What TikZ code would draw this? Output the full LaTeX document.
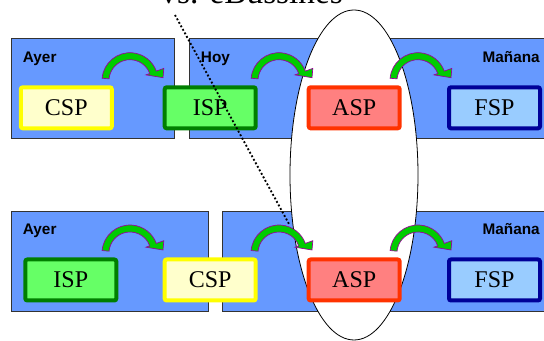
\documentclass[tikz,border=0pt]{standalone}
\usepackage{fontspec}
\setmainfont{Liberation Serif}
\setsansfont{Liberation Sans}
\usetikzlibrary{shapes.geometric,positioning}
\definecolor{PanelBlue}{HTML}{6699FF}
\definecolor{PanelEdge}{HTML}{333333}
\definecolor{CspFill}{HTML}{FFFFCC}
\definecolor{CspEdge}{HTML}{FFFF00}
\definecolor{IspFill}{HTML}{66FF66}
\definecolor{IspEdge}{HTML}{007F00}
\definecolor{AspFill}{HTML}{FF8080}
\definecolor{AspEdge}{HTML}{FF3300}
\definecolor{FspFill}{HTML}{99CCFF}
\definecolor{FspEdge}{HTML}{000099}
\definecolor{HopFill}{HTML}{00CC00}
\definecolor{HopEdge}{HTML}{990099}
\tikzset{
  panel/.style={fill=PanelBlue,draw=PanelEdge,line width=0.75pt},
  era/.style={font=\sffamily\bfseries\fontsize{11.5}{13}\selectfont,inner sep=0pt},
  sp/.style={rectangle,rounded corners=1.5pt,line width=3pt,minimum width=68.25pt,
    minimum height=30.75pt,inner sep=0pt,font=\fontsize{18}{20}\selectfont},
  CSP/.style={sp,fill=CspFill,draw=CspEdge},
  ISP/.style={sp,fill=IspFill,draw=IspEdge},
  ASP/.style={sp,fill=AspFill,draw=AspEdge},
  FSP/.style={sp,fill=FspFill,draw=FspEdge},
  cluster/.style={ellipse,draw=black,fill=white,line width=0.6pt,inner sep=0pt,
    minimum width=96pt,minimum height=247.5pt},
  pointer/.style={line width=1.4pt,dash pattern=on 1.4pt off 1.6pt},
  hop/.pic={
    \filldraw[fill=HopFill,draw=HopEdge,line width=0.5pt]
      (185:21) -- (185:28) arc[start angle=185,end angle=340,radius=28]
      -- (340:36) -- (33,-3) -- (340:17) -- (340:21)
      arc[start angle=340,end angle=185,radius=21] -- cycle;
  }
}
\begin{document}
\begin{tikzpicture}[x=0.75pt,y=-0.75pt]
\useasboundingbox (0,0) rectangle (544,341);

% title, cut by the page top
\node[anchor=base,inner sep=0pt,font=\fontsize{25}{28}\selectfont] (title) at (251.7,3.5) {vs. eBussines};

% panels
\path[panel] (11,39) rectangle (174,139);
\path[panel] (189,39) rectangle (550,139);
\path[panel] (11,212) rectangle (208,312);
\path[panel] (222,212) rectangle (550,312);

\node[era,anchor=base west] (ayer1) at (22.7,62.5) {Ayer};
\node[era,anchor=base west] (hoy1) at (200.7,62.5) {Hoy};
\node[era,anchor=base east] (manana1) at (540,62.5) {Mañana};
\node[era,anchor=base west] (ayer2) at (22.7,235) {Ayer};
\node[era,anchor=base east] (manana2) at (540,235) {Mañana};

\node[cluster] (cluster) at (354,175) {};

% top row
\node[CSP] (csp1) at (66.3,107.8) {CSP};
\node[ISP] (isp1) at (210.2,107.8) {ISP};
\node[ASP] (asp1) at (354.2,107.8) {ASP};
\node[FSP] (fsp1) at (494.5,107.8) {FSP};
% bottom row
\node[ISP] (isp2) at (70.8,280) {ISP};
\node[CSP] (csp2) at (210.2,280) {CSP};
\node[ASP] (asp2) at (354.2,280) {ASP};
\node[FSP] (fsp2) at (494.5,280) {FSP};

\foreach \y in {80.7,253}
  \foreach \x in {130,279,418}
    \pic at (\x,\y) {hop};

\coordinate (from) at (175,15);
\coordinate (to) at (289,224);
\draw[pointer] (from) -- (to);
\end{tikzpicture}
\end{document}
